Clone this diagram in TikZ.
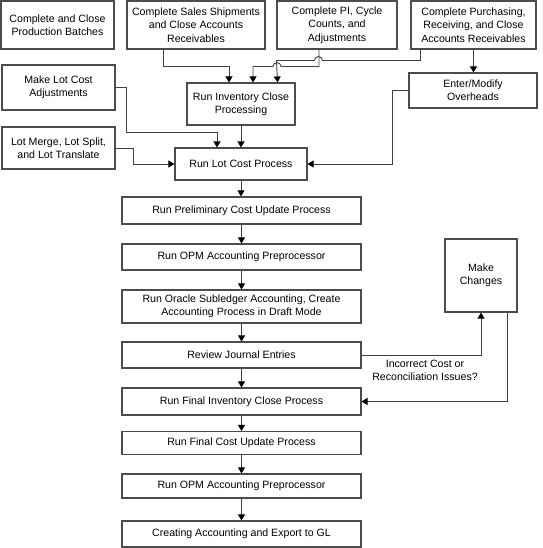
\documentclass[tikz,border=0pt]{standalone}
\usepackage{fontspec}
\setmainfont{Liberation Sans}
\usetikzlibrary{arrows.meta}

\begin{document}
\begin{tikzpicture}[x=1pt, y=-1pt,
 box/.style={draw=black!70, line width=1.1pt, align=center, inner sep=0, font=\fontsize{10.6}{13.3}\selectfont},
 conn/.style={black!75, line width=0.9pt, -{Triangle[length=6pt,width=7pt,black]}}]
\useasboundingbox (0,0) rectangle (542,548);
\node[box, minimum width=113pt, minimum height=48pt] (bat) at (57.5,25) {Complete and Close\\Production Batches};
\node[box, minimum width=138pt, minimum height=48pt] (ship) at (196,25) {Complete Sales Shipments\\and Close Accounts\\Receivables};
\node[box, minimum width=120pt, minimum height=48pt] (pi) at (337,25) {Complete PI, Cycle\\Counts, and\\Adjustments};
\node[box, minimum width=125pt, minimum height=48pt] (pur) at (473.5,25) {Complete Purchasing,\\Receiving, and Close\\Accounts Receivables};
\node[box, minimum width=113pt, minimum height=45pt] (adj) at (58.5,87.5) {Make Lot Cost\\Adjustments};
\node[box, minimum width=113pt, minimum height=42pt] (mrg) at (58.5,148) {Lot Merge, Lot Split,\\and Lot Translate};
\node[box, minimum width=108pt, minimum height=42pt] (inv) at (241,104) {Run Inventory Close\\Processing};
\node[box, minimum width=128pt, minimum height=35pt] (ovh) at (473,90.5) {Enter/Modify\\Overheads};
\node[box, minimum width=132pt, minimum height=32pt] (lot) at (241,164) {Run Lot Cost Process};
\foreach \n/\y/\h/\t in {pre/210.5/27/{Run Preliminary Cost Update Process},
  opm/257/26/{Run OPM Accounting Preprocessor},
  sla/306.5/33/{Run Oracle Subledger Accounting, Create\\Accounting Process in Draft Mode},
  rev/355/26/{Review Journal Entries},
  finv/401.5/27/{Run Final Inventory Close Process},
  fcost/443/23/{Run Final Cost Update Process},
  opmb/486/24/{Run OPM Accounting Preprocessor},
  gl/534/26/{Creating Accounting and Export to GL}}
  \node[box, minimum width=239pt, minimum height=\h pt] (\n) at (241.5,\y) {\t};
\node[box, minimum width=72pt, minimum height=73pt] (chg) at (481,275.5) {Make\\Changes};
\node[align=center, font=\fontsize{10.6}{13.3}\selectfont] (why) at (425,370) {Incorrect Cost or\\Reconciliation Issues?};

\draw[conn] ([xshift=-33]ship.south) -- ++(0,17) -| ([xshift=-12]inv.north);
\draw[conn] ([xshift=-18]pi.south) -- ++(0,17) -- ++(-38,0) arc[start angle=0, end angle=-180, radius=4] -- ++(-20,0) -- ([xshift=12]inv.north);
\draw[conn] ([xshift=10]pur.south west) -- ++(0,11) -- ++(-98,0) arc[start angle=0, end angle=-180, radius=4] -- ++(-38,0) -- ([xshift=-18]inv.north east);
\draw[conn] (pur.south) -- (pur.south |- ovh.north);
\draw[conn] (adj.east) -- ++(11,0) -- ++(0,45) -| ([xshift=-24]lot.north);
\draw[conn] (mrg.east) -- ++(18,0) |- (lot.west);
\draw[conn] (ovh.west) -- ++(-16,0) |- (lot.east);
\draw[conn] (inv.south) -- (lot.north);
\foreach \a/\b in {lot/pre, pre/opm, opm/sla, sla/rev, rev/finv, finv/fcost, fcost/opmb, opmb/gl}
  \draw[conn] (\a.south) -- (\a.south |- \b.north);
\draw[conn] (rev.east) -| (chg.south);
\draw[conn] ([xshift=26]chg.south) |- (finv.east);
\end{tikzpicture}
\end{document}
